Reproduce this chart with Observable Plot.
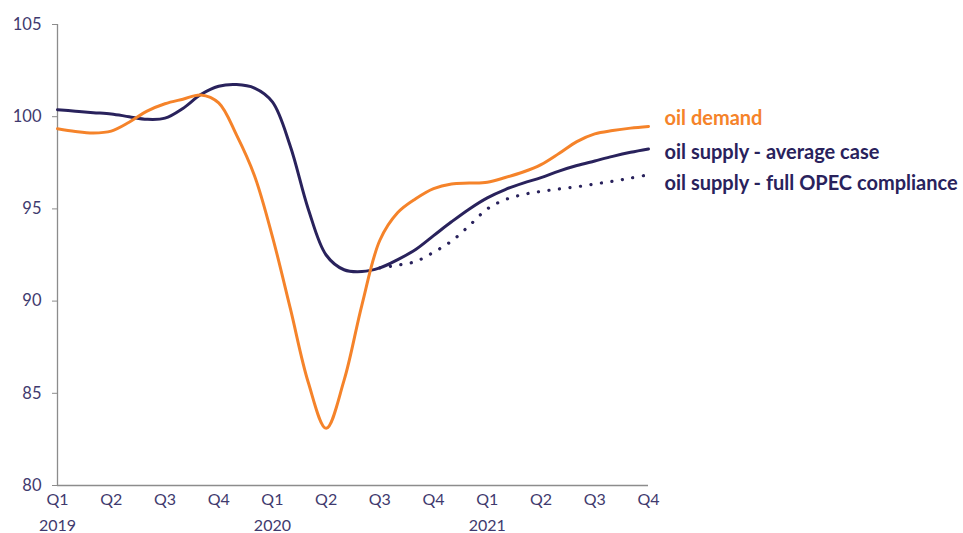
<!DOCTYPE html>
<html>
<head>
<meta charset="utf-8">
<script src="https://cdn.jsdelivr.net/npm/d3@7"></script>
<script src="https://cdn.jsdelivr.net/npm/@observablehq/plot@0.6"></script>
<style>
  html, body { margin: 0; padding: 0; background: #fff; }
  #chart svg { display: block; }
</style>
</head>
<body>
<div id="chart"></div>
<script>
// Monthly series, Jan 2019 (index 0) to Oct 2021 (index 33), mb/d
const months = d3.range(0, 34);
const demand = [
  99.35, 99.2, 99.12, 99.22, 99.7, 100.3, 100.7, 100.95, 101.18, 100.75,
  99.0, 96.8, 93.5, 89.6, 85.6, 83.1, 85.7, 89.8, 93.3, 94.8,
  95.55, 96.1, 96.35, 96.4, 96.45, 96.7, 97.0, 97.4, 98.0, 98.65,
  99.07, 99.25, 99.38, 99.47
];
const supplyAverage = [
  100.38, 100.3, 100.22, 100.15, 100.0, 99.86, 99.92, 100.45, 101.2, 101.65,
  101.74, 101.55, 100.8, 98.4, 95.0, 92.5, 91.7, 91.6, 91.8, 92.25,
  92.8, 93.55, 94.3, 95.0, 95.6, 96.05, 96.4, 96.7, 97.05, 97.35,
  97.6, 97.85, 98.07, 98.25
];
// Full-compliance scenario starts in Jul 2020 (index 18)
const opecStart = 18;
const supplyOpec = [
  91.8, 91.95, 92.15, 92.65, 93.25, 94.1, 95.0, 95.5, 95.78, 95.95,
  96.08, 96.2, 96.35, 96.5, 96.67, 96.85
];

const quarterTicks = d3.range(0, 34, 3);
const quarterLabels = ["Q1", "Q2", "Q3", "Q4", "Q1", "Q2", "Q3", "Q4", "Q1", "Q2", "Q3", "Q4"];
const yearTicks = [0, 12, 24];
const yearLabels = ["2019", "2020", "2021"];
const yTicks = [80, 85, 90, 95, 100, 105];

const seriesNames = ["oil demand", "oil supply - average case", "oil supply - full OPEC compliance"];

const orange = "#F5832A";
const navy = "#29225C";
const labelInk = "#3F3A6E";
const axisGray = "#8C8C8C";
const font = "Lato, 'Open Sans', sans-serif";

const demandRows = months.map((m, i) => ({m, v: demand[i]}));
const averageRows = months.map((m, i) => ({m, v: supplyAverage[i]}));
const opecRows = supplyOpec.map((v, i) => ({m: opecStart + i, v}));

// end-of-line labels, nudged apart vertically (pixels)
const ends = [
  {m: 33, v: demand[33], name: seriesNames[0], color: orange, shift: -8},
  {m: 33, v: supplyAverage[33], name: seriesNames[1], color: navy, shift: 3},
  {m: 33, v: supplyOpec[supplyOpec.length - 1], name: seriesNames[2], color: navy, shift: 8}
];

const chart = Plot.plot({
  width: 963,
  height: 533,
  marginLeft: 57,
  marginRight: 315,
  marginTop: 24,
  marginBottom: 48,
  style: {fontFamily: font, background: "#fff", overflow: "visible"},
  x: {domain: [0, 33]},
  y: {domain: [80, 105]},
  marks: [
    Plot.ruleX([0], {y1: 80, y2: 105, stroke: axisGray, strokeWidth: 1.3}),
    Plot.ruleY([80], {x1: 0, x2: 33, stroke: axisGray, strokeWidth: 1.3}),
    Plot.axisY(yTicks, {
      tickSize: 5, tickPadding: 11, stroke: axisGray, fill: labelInk,
      fontSize: 16.5, label: null
    }),
    Plot.axisX(quarterTicks, {
      tickSize: 0, tickPadding: 8, fill: labelInk, fontSize: 16,
      tickFormat: (d) => quarterLabels[quarterTicks.indexOf(d)], label: null
    }),
    Plot.axisX(yearTicks, {
      tickSize: 0, tickPadding: 34, fill: labelInk, fontSize: 16,
      tickFormat: (d) => yearLabels[yearTicks.indexOf(d)], label: null
    }),
    Plot.line(opecRows, {
      x: "m", y: "v", stroke: navy, strokeWidth: 3.2,
      strokeDasharray: "0.1 10.5", strokeLinecap: "round", curve: "catmull-rom"
    }),
    Plot.line(averageRows, {
      x: "m", y: "v", stroke: navy, strokeWidth: 3, curve: "catmull-rom"
    }),
    Plot.line(demandRows, {
      x: "m", y: "v", stroke: orange, strokeWidth: 3, curve: "catmull-rom"
    }),
    Plot.text(ends, {
      x: "m", y: "v", text: "name", fill: "color",
      dx: 16, textAnchor: "start", fontSize: 20, fontWeight: "bold",
      className: "end-labels"
    })
  ]
});

chart.querySelectorAll(".end-labels text").forEach((t, i) => {
  if (ends[i]) t.setAttribute("dy", ends[i].shift + 0.5);
});

document.getElementById("chart").append(chart);
</script>
</body>
</html>
